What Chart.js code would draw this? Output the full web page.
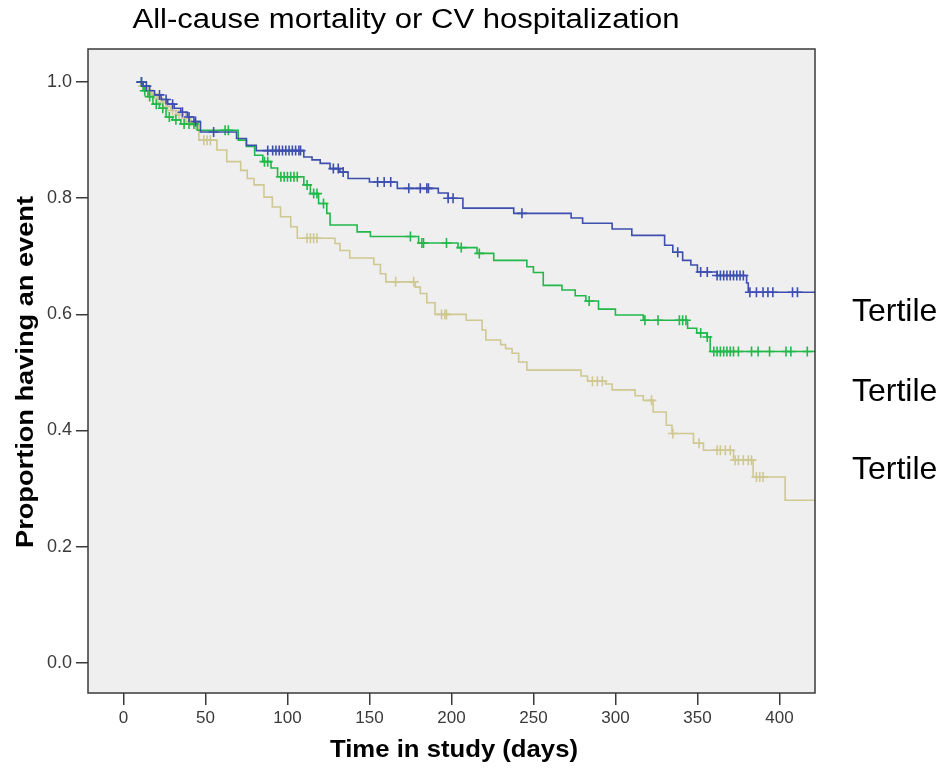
<!DOCTYPE html>
<html>
<head>
<meta charset="utf-8">
<script src="https://cdn.jsdelivr.net/npm/chart.js@4.4.0/dist/chart.umd.min.js"></script>
<style>
  html, body { margin: 0; padding: 0; background: #fff; }
  #wrap { width: 944px; height: 771px; }
</style>
</head>
<body>
<div id="wrap"><canvas id="km" width="944" height="771"></canvas></div>
<script>
// axis ticks
const xTicks = [0, 50, 100, 150, 200, 250, 300, 350, 400];
const yTicks = [0, 0.2, 0.4, 0.6, 0.8, 1.0];

// Kaplan-Meier steps: time (days) and proportion after the drop
const blueTimes = [8, 12, 16, 19, 23, 27, 31, 35, 39, 43, 47, 69, 75, 81, 110, 115, 120, 126, 132, 137, 150, 167, 192, 198, 207, 238, 273, 280, 298, 310, 330, 335, 341, 346, 350, 362, 380, 381, 422];
const blueValues = [1.0, 0.993, 0.985, 0.978, 0.97, 0.962, 0.955, 0.948, 0.94, 0.932, 0.914, 0.903, 0.891, 0.882, 0.871, 0.866, 0.86, 0.851, 0.845, 0.834, 0.828, 0.817, 0.809, 0.80, 0.783, 0.774, 0.766, 0.757, 0.747, 0.736, 0.719, 0.707, 0.693, 0.685, 0.673, 0.667, 0.654, 0.638, 0.638];
const blueCensored = [11, 14, 22, 26, 30, 36, 40, 44, 55, 88, 91, 93, 95, 97, 99, 101, 103, 105, 107, 108, 128, 131, 134, 155, 159, 163, 174, 181, 185, 186, 198, 201, 243, 338, 352, 356, 362, 364, 366, 368, 370, 372, 374, 376, 378, 382, 386, 390, 393, 396, 408, 411];

const greenTimes = [9, 12, 15, 18, 22, 26, 30, 35, 45, 70, 75, 80, 85, 90, 94, 110, 114, 119, 124, 126, 142.5, 150.6, 180, 204, 215.6, 225.8, 246, 250, 256, 267.4, 275.5, 282, 289.7, 300, 317, 344, 349.6, 355.8, 357.8, 422];
const greenValues = [1.0, 0.985, 0.975, 0.962, 0.955, 0.94, 0.935, 0.928, 0.917, 0.90, 0.889, 0.874, 0.863, 0.852, 0.837, 0.823, 0.808, 0.791, 0.774, 0.754, 0.742, 0.734, 0.723, 0.715, 0.705, 0.693, 0.682, 0.672, 0.65, 0.642, 0.632, 0.623, 0.609, 0.599, 0.59, 0.576, 0.568, 0.561, 0.536, 0.536];
const greenCensored = [11, 13, 16, 20, 24, 28, 32, 37, 40, 43, 62, 64, 86, 88, 96, 98, 100, 102, 104, 106, 112, 116, 118, 122, 175, 182, 183, 197, 206, 217, 284, 318, 326, 339, 341, 343, 352, 356, 360, 362, 364, 366, 368, 370, 372, 375, 383, 387, 394, 404, 407, 417];

const tanTimes = [9, 11, 14, 17, 20, 23, 26, 29, 32, 36, 40, 43, 46, 57, 63, 71.5, 75.5, 79.6, 85.7, 90.8, 95.8, 102, 106, 129, 132, 138, 152.7, 156.7, 160, 178, 181, 185, 190, 209, 218.7, 221, 230, 233, 237, 241, 246, 279, 283, 294, 298, 312, 317, 323, 331, 334.5, 347.6, 353.7, 372, 384, 403.5, 422];
const tanValues = [1.0, 0.993, 0.986, 0.979, 0.972, 0.965, 0.958, 0.951, 0.944, 0.938, 0.932, 0.926, 0.90, 0.883, 0.863, 0.848, 0.834, 0.823, 0.802, 0.785, 0.768, 0.751, 0.731, 0.722, 0.71, 0.697, 0.686, 0.67, 0.656, 0.647, 0.636, 0.62, 0.60, 0.59, 0.573, 0.556, 0.548, 0.541, 0.533, 0.518, 0.504, 0.494, 0.485, 0.48, 0.47, 0.46, 0.452, 0.432, 0.409, 0.395, 0.378, 0.366, 0.349, 0.32, 0.28, 0.28];
const tanCensored = [12, 15, 18, 21, 24, 27, 30, 34, 38, 41, 44, 49, 51, 53, 112, 114, 116, 118, 166, 177, 194, 196, 197, 286, 289, 292, 322, 335, 351, 362, 364, 367, 370, 373, 375, 378, 381, 383, 386, 388, 390];

const groupLabels = ['Tertile', 'Tertile', 'Tertile'];

const blue = '#3d4fae';
const green = '#22b84a';
const tan = '#cfc891';

function steps(times, values) {
  return times.map((t, i) => ({ x: t, y: values[i] }));
}

// place a censor mark on the curve at time t
function marks(censored, times, values) {
  return censored.map(t => {
    let v = values[0];
    for (let i = 0; i < times.length; i++) {
      if (times[i] <= t) v = values[i];
    }
    return { x: t, y: v };
  });
}

function fitText(ctx, text, cx, cy, width, font, angle) {
  ctx.save();
  ctx.font = font;
  const w = ctx.measureText(text).width;
  ctx.translate(cx, cy);
  if (angle) ctx.rotate(angle);
  ctx.scale(width / w, 1);
  ctx.textAlign = 'center';
  ctx.textBaseline = 'middle';
  ctx.fillStyle = '#000';
  ctx.fillText(text, 0, 0);
  ctx.restore();
}

const frame = {
  id: 'frame',
  beforeDatasetsDraw(chart) {
    const { ctx, chartArea: a } = chart;
    ctx.save();
    ctx.fillStyle = '#efefef';
    ctx.fillRect(a.left, a.top, a.right - a.left, a.bottom - a.top);
    ctx.restore();
  },
  afterDraw(chart) {
    const { ctx, chartArea: a } = chart;
    ctx.save();
    ctx.strokeStyle = '#3a3a3a';
    ctx.lineWidth = 1.5;
    ctx.strokeRect(a.left, a.top, a.right - a.left, a.bottom - a.top);
    ctx.restore();

    fitText(ctx, 'All-cause mortality or CV hospitalization', 406, 21, 547, '27px "Liberation Sans", Arial, sans-serif');
    fitText(ctx, 'Proportion having an event', 26, 372, 352, 'bold 24px "Liberation Sans", Arial, sans-serif', -Math.PI / 2);
    fitText(ctx, 'Time in study (days)', 454, 750, 248, 'bold 24px "Liberation Sans", Arial, sans-serif');

    ctx.save();
    ctx.font = '32px "Liberation Sans", Arial, sans-serif';
    ctx.fillStyle = '#000';
    ctx.textBaseline = 'middle';
    const labelY = [312, 392, 470];
    groupLabels.forEach((s, i) => ctx.fillText(s, 852, labelY[i]));
    ctx.restore();
  }
};

const lineStyle = { showLine: true, stepped: true, borderWidth: 1.6, pointRadius: 0, fill: false };
const markStyle = { showLine: false, pointStyle: 'cross', pointRadius: 5, borderWidth: 1.6 };

new Chart(document.getElementById('km'), {
  type: 'scatter',
  data: {
    datasets: [
      { ...markStyle, data: marks(blueCensored, blueTimes, blueValues), borderColor: blue },
      { ...lineStyle, data: steps(blueTimes, blueValues), borderColor: blue },
      { ...markStyle, data: marks(greenCensored, greenTimes, greenValues), borderColor: green },
      { ...lineStyle, data: steps(greenTimes, greenValues), borderColor: green },
      { ...markStyle, data: marks(tanCensored, tanTimes, tanValues), borderColor: tan },
      { ...lineStyle, data: steps(tanTimes, tanValues), borderColor: tan }
    ]
  },
  options: {
    responsive: false,
    animation: false,
    devicePixelRatio: 1,
    layout: { padding: { top: 49, right: 129, left: 0, bottom: 0 } },
    plugins: { legend: { display: false }, tooltip: { enabled: false } },
    scales: {
      x: {
        type: 'linear',
        min: -21.6,
        max: 421.7,
        afterBuildTicks: s => { s.ticks = xTicks.map(v => ({ value: v })); },
        afterFit: s => { s.height = 78; },
        border: { display: false },
        grid: { drawOnChartArea: false, drawTicks: true, tickLength: 12, color: '#3a3a3a', lineWidth: 1.5 },
        ticks: { color: '#3a3a3a', font: { size: 17, family: '"Liberation Sans", Arial, sans-serif' }, padding: 3, maxRotation: 0, callback: v => String(v) }
      },
      y: {
        type: 'linear',
        min: -0.052,
        max: 1.057,
        afterBuildTicks: s => { s.ticks = yTicks.map(v => ({ value: v })); },
        afterFit: s => { s.width = 88; },
        border: { display: false },
        grid: { drawOnChartArea: false, drawTicks: true, tickLength: 12, color: '#3a3a3a', lineWidth: 1.5 },
        ticks: { color: '#3a3a3a', font: { size: 18, family: '"Liberation Sans", Arial, sans-serif' }, padding: 4, callback: v => v.toFixed(1) }
      }
    }
  },
  plugins: [frame]
});
</script>
</body>
</html>
